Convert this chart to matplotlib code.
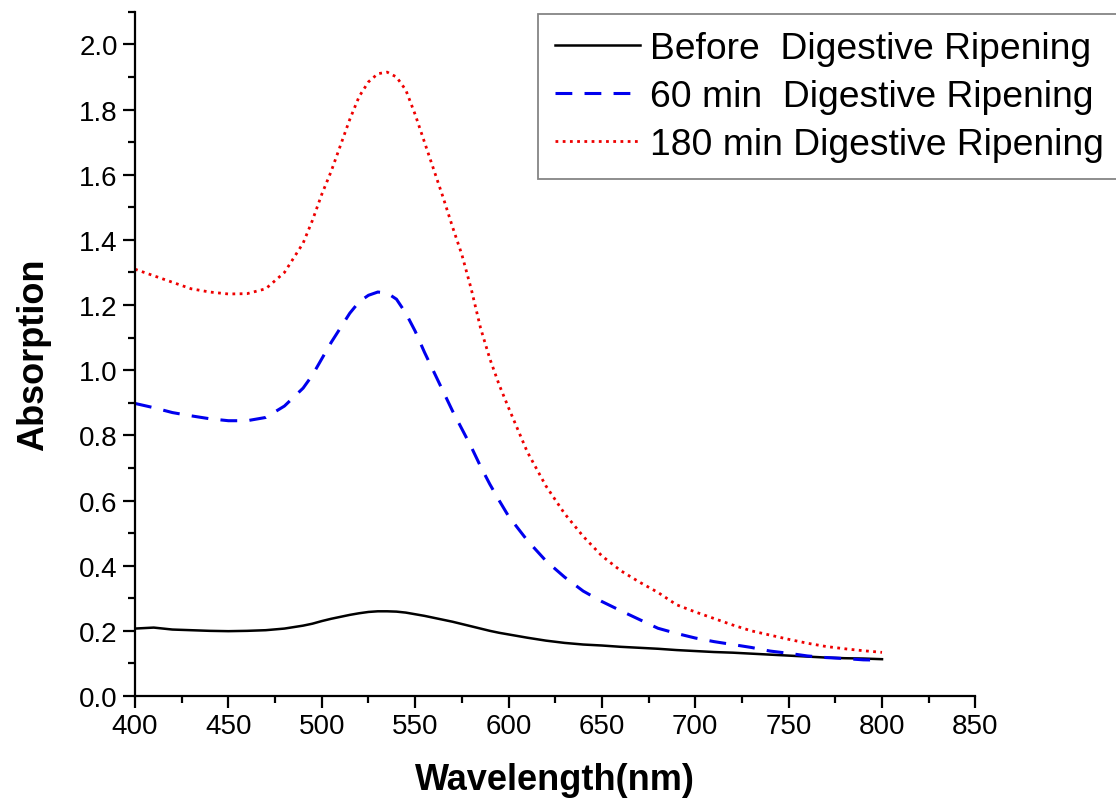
import numpy as np
import matplotlib
matplotlib.use("Agg")
import matplotlib.pyplot as plt
from matplotlib.ticker import MultipleLocator

plt.rcParams["font.family"] = ["Liberation Sans", "DejaVu Sans"]

# wavelength grid (nm), denser around the plasmon peak
wavelength = (list(range(400, 490, 10)) + list(range(490, 605, 5))
              + list(range(610, 801, 10)))

before = [0.207, 0.210, 0.204, 0.202, 0.200, 0.199, 0.200, 0.202, 0.207,
          0.216, 0.222, 0.230, 0.237, 0.243, 0.249, 0.254, 0.258, 0.260, 0.260,
          0.259, 0.256, 0.251, 0.246, 0.240, 0.234, 0.228, 0.221, 0.214, 0.207,
          0.200, 0.194, 0.189,
          0.179, 0.170, 0.163, 0.158, 0.155, 0.151, 0.148, 0.145, 0.141,
          0.138, 0.135, 0.133, 0.130, 0.127, 0.124, 0.121, 0.118, 0.116, 0.115,
          0.113]
min60 = [0.898, 0.885, 0.870, 0.860, 0.851, 0.845, 0.845, 0.855, 0.890,
         0.945, 0.985, 1.035, 1.085, 1.130, 1.175, 1.210, 1.230, 1.240, 1.237,
         1.218, 1.175, 1.120, 1.055, 0.995, 0.935, 0.875, 0.820, 0.765, 0.705,
         0.650, 0.600, 0.552,
         0.478, 0.415, 0.365, 0.322, 0.290, 0.262, 0.235, 0.208, 0.192,
         0.178, 0.167, 0.158, 0.149, 0.138, 0.131, 0.123, 0.118, 0.115, 0.111,
         0.110]
min180 = [1.310, 1.290, 1.270, 1.250, 1.240, 1.234, 1.235, 1.250, 1.300,
          1.390, 1.460, 1.540, 1.610, 1.690, 1.770, 1.840, 1.885, 1.910, 1.915,
          1.900, 1.860, 1.785, 1.700, 1.615, 1.530, 1.440, 1.355, 1.250, 1.130,
          1.035, 0.955, 0.885,
          0.750, 0.645, 0.560, 0.490, 0.430, 0.385, 0.350, 0.318, 0.280,
          0.258, 0.238, 0.218, 0.200, 0.187, 0.174, 0.162, 0.152, 0.145, 0.139,
          0.134]

labels = ["Before  Digestive Ripening", "60 min  Digestive Ripening",
          "180 min Digestive Ripening"]

fig = plt.figure(figsize=(11.16, 8.03), dpi=100)
ax = fig.add_axes([0.121, 0.132, 0.753, 0.852])

ax.plot(wavelength, before, color="black", lw=1.8, label=labels[0])
ax.plot(wavelength, min60, color="#0000ee", lw=2.2, linestyle=(0, (5.5, 4)),
        label=labels[1])
ax.plot(wavelength, min180, color="#ee0000", lw=2.0, linestyle=(0, (1, 1.6)),
        label=labels[2])

ax.set_xlim(400, 850)
ax.set_ylim(0, 2.1)
ax.xaxis.set_major_locator(MultipleLocator(50))
ax.xaxis.set_minor_locator(MultipleLocator(25))
ax.yaxis.set_major_locator(MultipleLocator(0.2))
ax.yaxis.set_minor_locator(MultipleLocator(0.1))
ax.yaxis.set_major_formatter(matplotlib.ticker.FormatStrFormatter("%.1f"))

for side in ["top", "right"]:
    ax.spines[side].set_visible(False)
for side in ["left", "bottom"]:
    ax.spines[side].set_linewidth(1.6)

ax.tick_params(which="major", direction="out", length=8.5, width=1.6,
               labelsize=20, pad=4)
ax.tick_params(which="minor", direction="out", length=5, width=1.6)

ax.set_xlabel("Wavelength(nm)", fontsize=26, fontweight="bold", labelpad=16)
ax.set_ylabel("Absorption", fontsize=26, fontweight="bold", labelpad=20)

# legend box runs past the right edge of the figure, like the original
leg = ax.legend(loc="upper right", bbox_to_anchor=(1121 / 1116, 1 - 15 / 803),
                bbox_transform=fig.transFigure, borderaxespad=0,
                fontsize=26.8, fancybox=False, handlelength=2.3,
                handletextpad=0.27, labelspacing=0.35, borderpad=0.45)
leg.get_frame().set_edgecolor("#666666")
leg.get_frame().set_linewidth(1.3)

fig.savefig("out.png", dpi=100)
